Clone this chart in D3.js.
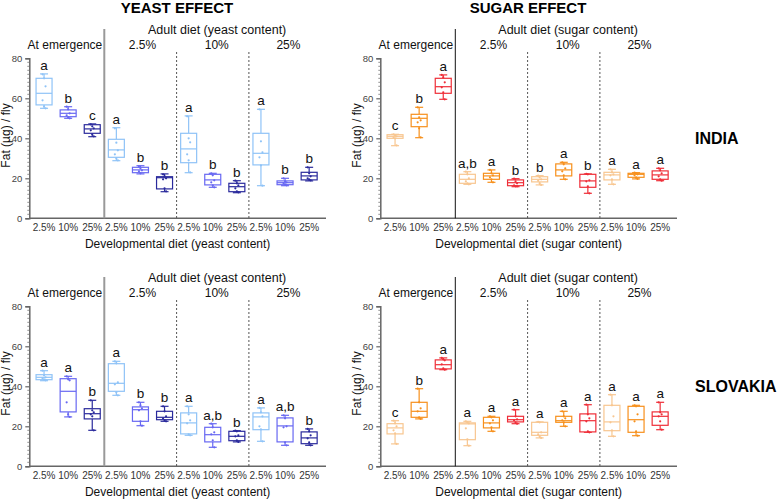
<!DOCTYPE html>
<html><head><meta charset="utf-8">
<script src="https://cdn.jsdelivr.net/npm/d3@7"></script>
<style>
html,body{margin:0;padding:0;background:#fff;}
svg{display:block;font-family:"Liberation Sans",Arial,Helvetica,sans-serif;}
</style></head>
<body>
<svg id="chart" width="778" height="499"></svg>
<script>
// ---- DATA ----
const devLabels = ["2.5%","10%","25%","2.5%","10%","25%","2.5%","10%","25%","2.5%","10%","25%"];
const groupLabels = ["At emergence","2.5%","10%","25%"];
const yTicks = [0,20,40,60,80];
// box stats: [whiskerLow, q1, median, q3, whiskerHigh]
const indiaYeastStats = [
  [55,56.7,62.5,70,72.2],[50,50.8,52.5,54.2,55.8],[40.8,42.5,44.7,46.8,47.2],
  [28.8,30.5,34.2,39.5,45.3],[22.2,22.8,24.2,25.5,26.3],[13.3,14.7,20.3,20.8,22.2],
  [22.8,27.8,34.7,42.5,51.2],[15.5,16.7,19.2,22,22.5],[12.8,13.3,15.8,17.5,18.8],
  [16.3,26.7,32.5,42.5,54.5],[16.3,16.8,17.8,18.7,20],[18.7,19.2,21.2,23,25.5]];
const indiaYeastLetters = ["a","b","c","a","b","b","a","b","b","a","b","b"];
const indiaYeastPoints = [
  [72,70,66,59,56,55],[55.8,54.5,52.5,51.5,50.5,50],[47,46,45,44,42,41],
  [45,37.8,34,32,30,29],[26,25,24,23.5,22.5],[22,21,20,19.5,15,13.5],
  [51,40,38,32,29,23],[22.5,21.5,19,18,16.5,15.5],[18.8,17.5,16.5,15,13.5,13],
  [54.5,38.5,33,30.5,26.5,16.3],[20,18.5,18,17.5,17,16.5],[25.5,22.5,21,20,19.5,19]];

const indiaSugarStats = [
  [36.3,40,41,41.8,42],[40.3,45.8,50,52,55.5],[59.5,62.5,65.8,70,71.7],
  [17,17.5,19.5,22,23.3],[18,19.5,21.2,22.5,24.2],[15.8,16.3,17.8,19.2,19.8],
  [16.7,18.2,19.5,20.8,21.3],[19.5,21.2,24.2,27.2,28],[12.5,15.5,18.7,22,22.2],
  [17,19.2,21.7,23,24.5],[19.7,20.5,22,22.5,22.8],[18.8,19.5,21.7,23.7,25]];
const indiaSugarLetters = ["c","b","a","a,b","a","b","b","a","b","a","a","a"];
const indiaSugarPoints = [
  [42,41.5,41,40.5,40,36.5],[55.5,50.5,49,48,45,40.5],[71.7,70.5,68,65.5,63,59.5],
  [23.3,22,20,18.5,17.5,17],[24.2,22.5,21.5,20.5,19.5,18],[19.8,18.5,17.5,16.5,16,16],
  [21.3,20.5,19.5,18.8,17.5,16.7],[28,27,25,23.5,21.5,19.5],[22.2,22,19,18.5,16,12.5],
  [24.5,23,22,21.5,19.5,17],[22.8,22.5,22,21.5,20.5,19.7],[25,24,22.5,21,19.5,18.8]];

const slovakiaYeastStats = [
  [42.8,43.3,44.5,45.8,47.8],[24.7,27.2,37.5,43.8,45],[18,23.7,26.3,28.8,33],
  [35.5,37.5,41.5,51.3,52.5],[20.3,22.5,28.3,29.7,32],[22.5,23.3,24.5,27.5,30],
  [15.5,16.2,21.7,26.7,30],[9.5,12.2,15.8,19.5,21.3],[12.2,12.8,15,17.5,17.8],
  [12.5,18.3,24.7,26.7,29.2],[10.5,12.2,20.2,24.2,25.5],[10.5,11.3,14.2,17.2,18.7]];
const slovakiaYeastLetters = ["a","a","b","a","b","b","a","a,b","b","a","a,b","b"];
const slovakiaYeastPoints = [
  [47.8,45.5,44.5,44,43.5,43],[45,43.5,43,32,26,24.7],[33,28,27,26,25,18],
  [52.5,51.5,42,41,37,35.5],[32,30.5,29,28,22.5,20.3],[30,27.5,25,24,23,22.5],
  [30,26,23,21.5,16,15.5],[21.3,19.5,17,16,13,9.5],[17.8,17.5,15.5,15,13,12.2],
  [29.2,27,25,20,18.5,12.5],[25.5,24,20,19.5,12,10.5],[18.7,17.5,15.5,14,12,10.5]];

const slovakiaSugarStats = [
  [11.2,16.2,19.2,21.3,22.8],[23.7,24.5,27.5,32,38.8],[48.3,48.7,50.8,53.2,54.2],
  [10.3,13.3,21.2,21.7,22.5],[17.5,19.2,21.7,24.5,25],[21.3,22.2,23.3,25,28.3],
  [14.2,15.5,17,22,22.2],[20,22,22.8,25,27.5],[17,17.2,22.8,26.2,30.8],
  [15,17.8,22.2,30.5,35.8],[15.3,17,23.3,30,30.5],[18.3,20.5,25,27.2,32]];
const slovakiaSugarLetters = ["c","b","a","a","a","a","a","a","a","a","a","a"];
const slovakiaSugarPoints = [
  [22.8,21.5,20,18,16.5,11.2],[38.8,32,29,27.5,24.5,23.7],[54.2,53.5,53,51,49,48.3],
  [22.5,22,21.5,19,13.5,10.3],[25,24.5,23,21.5,19.5,17.5],[28.3,25,23.5,23,22,21.3],
  [22.2,22,17,16,15,14.2],[27.5,25,24,23,22,20],[30.8,26,24,22.5,17.5,17],
  [35.8,30.5,25,22,18,15],[30.5,30,26,22.5,17.5,15.3],[32,27,26,25,22.5,18.3]];

const yeastColors = ["#8fc3f7","#6868f2","#2a2a9c"];
const sugarColors = ["#f8c690","#f7901c","#ef2e38"];

// ---- DRAW ----
const svg = d3.select("#chart");

function drawPanel(ox, oy, stats, letters, points, colors, nutrient, sepColor, sepWidth){
  const g = svg.append("g").attr("transform", `translate(${ox},${oy})`);
  const axisX = 29.3, axisEnd = 326;
  const y = d3.scaleLinear().domain([0,80]).range([218.3,58.3]);
  const x = d3.scaleBand().domain(d3.range(12)).range([32,321.2]).padding(0);
  const bw = 16, cap = 8;
  const c = i => colors[i % 3];

  // y axis
  const ya = d3.axisLeft(y).tickValues(yTicks).tickSize(4).tickPadding(3);
  const yg = g.append("g").attr("transform",`translate(${axisX},0)`).call(ya);
  yg.select(".domain").attr("stroke","#666").attr("stroke-width",1.5);
  yg.selectAll(".tick line").attr("stroke","#666").attr("stroke-width",1.2);
  yg.selectAll(".tick text").attr("font-size",9.5).attr("fill","#444").attr("font-family","Liberation Sans, Arial, sans-serif");
  // minor ticks
  g.append("g").selectAll("line").data(d3.range(0,81,2).filter(v=>v%20!==0)).join("line")
    .attr("x1",axisX-2).attr("x2",axisX).attr("y1",d=>y(d)).attr("y2",d=>y(d))
    .attr("stroke","#777").attr("stroke-width",0.8);

  // x axis line
  g.append("line").attr("x1",axisX).attr("x2",axisEnd).attr("y1",y(0)).attr("y2",y(0))
    .attr("stroke","#666").attr("stroke-width",1.5);
  g.append("g").selectAll("text").data(devLabels).join("text")
    .attr("x",(d,i)=>x(i)+x.bandwidth()/2).attr("y",231).attr("text-anchor","middle")
    .attr("font-size",10).attr("fill","#333").text(d=>d);

  // separators
  const sep1 = x(3), sep2 = x(6), sep3 = x(9);
  g.append("line").attr("x1",sep1).attr("x2",sep1).attr("y1",29).attr("y2",y(0))
    .attr("stroke",sepColor).attr("stroke-width",sepWidth);
  [sep2,sep3].forEach(sx=>{
    g.append("line").attr("x1",sx).attr("x2",sx).attr("y1",52).attr("y2",y(0))
      .attr("stroke","#555").attr("stroke-width",1).attr("stroke-dasharray","2,2");
  });

  // header labels
  g.append("text").attr("x",(sep1+axisEnd)/2+2).attr("y",34).attr("text-anchor","middle")
    .attr("font-size",12.5).attr("fill","#111").text(`Adult diet (${nutrient} content)`);
  const gx = [sep1-2, (sep1+sep2)/2+2, (sep2+sep3)/2+4, (sep3+axisEnd)/2+1];
  g.append("g").selectAll("text").data(groupLabels).join("text")
    .attr("x",(d,i)=>gx[i]).attr("y",49).attr("text-anchor",(d,i)=>i===0?"end":"middle")
    .attr("font-size",12).attr("fill","#111").text(d=>d);

  // axis titles
  g.append("text").attr("transform",`translate(10,135.5) rotate(-90)`).attr("text-anchor","middle")
    .attr("font-size",12).attr("fill","#111").text("Fat (µg) / fly");
  g.append("text").attr("x",(axisX+axisEnd)/2).attr("y",248).attr("text-anchor","middle")
    .attr("font-size",12).attr("fill","#111").text(`Developmental diet (${nutrient} content)`);

  // boxes
  const boxes = g.append("g").selectAll("g").data(stats).join("g")
    .attr("transform",(d,i)=>`translate(${x(i)+x.bandwidth()/2},0)`);
  boxes.each(function(d,i){
    const b = d3.select(this), col = c(i);
    const [lo,q1,md,q3,hi] = d;
    b.append("line").attr("x1",0).attr("x2",0).attr("y1",y(hi)).attr("y2",y(q3)).attr("stroke",col).attr("stroke-width",1.2);
    b.append("line").attr("x1",0).attr("x2",0).attr("y1",y(q1)).attr("y2",y(lo)).attr("stroke",col).attr("stroke-width",1.2);
    b.append("line").attr("x1",-cap/2).attr("x2",cap/2).attr("y1",y(hi)).attr("y2",y(hi)).attr("stroke",col).attr("stroke-width",1.2);
    b.append("line").attr("x1",-cap/2).attr("x2",cap/2).attr("y1",y(lo)).attr("y2",y(lo)).attr("stroke",col).attr("stroke-width",1.2);
    b.append("rect").attr("x",-bw/2).attr("width",bw).attr("y",y(q3)).attr("height",Math.max(0.5,y(q1)-y(q3)))
      .attr("fill","#fff").attr("stroke",col).attr("stroke-width",1.2);
    b.append("line").attr("x1",-bw/2).attr("x2",bw/2).attr("y1",y(md)).attr("y2",y(md)).attr("stroke",col).attr("stroke-width",1.2);
    b.selectAll("circle").data(points[i]).join("circle")
      .attr("cx",(p,j)=>(j%3-1)*1.5).attr("cy",p=>y(p)).attr("r",1.1).attr("fill",col);
    b.append("text").attr("x",0).attr("y",y(hi)-4).attr("text-anchor","middle")
      .attr("font-size",13.5).attr("fill","#111").text(letters[i]);
  });
}

drawPanel(0,0,indiaYeastStats,indiaYeastLetters,indiaYeastPoints,yeastColors,"yeast","#999",2);
drawPanel(351,0,indiaSugarStats,indiaSugarLetters,indiaSugarPoints,sugarColors,"sugar","#111",1);
drawPanel(0,248,slovakiaYeastStats,slovakiaYeastLetters,slovakiaYeastPoints,yeastColors,"yeast","#999",2);
drawPanel(351,248,slovakiaSugarStats,slovakiaSugarLetters,slovakiaSugarPoints,sugarColors,"sugar","#111",1);

// titles
svg.append("text").attr("x",177).attr("y",13).attr("text-anchor","middle").attr("font-size",15)
  .attr("font-weight","bold").text("YEAST EFFECT");
svg.append("text").attr("x",528).attr("y",13).attr("text-anchor","middle").attr("font-size",15)
  .attr("font-weight","bold").text("SUGAR EFFECT");
svg.append("text").attr("x",695).attr("y",144).attr("font-size",16).attr("font-weight","bold").text("INDIA");
svg.append("text").attr("x",695).attr("y",392).attr("font-size",16).attr("font-weight","bold").text("SLOVAKIA");
</script>
</body></html>
